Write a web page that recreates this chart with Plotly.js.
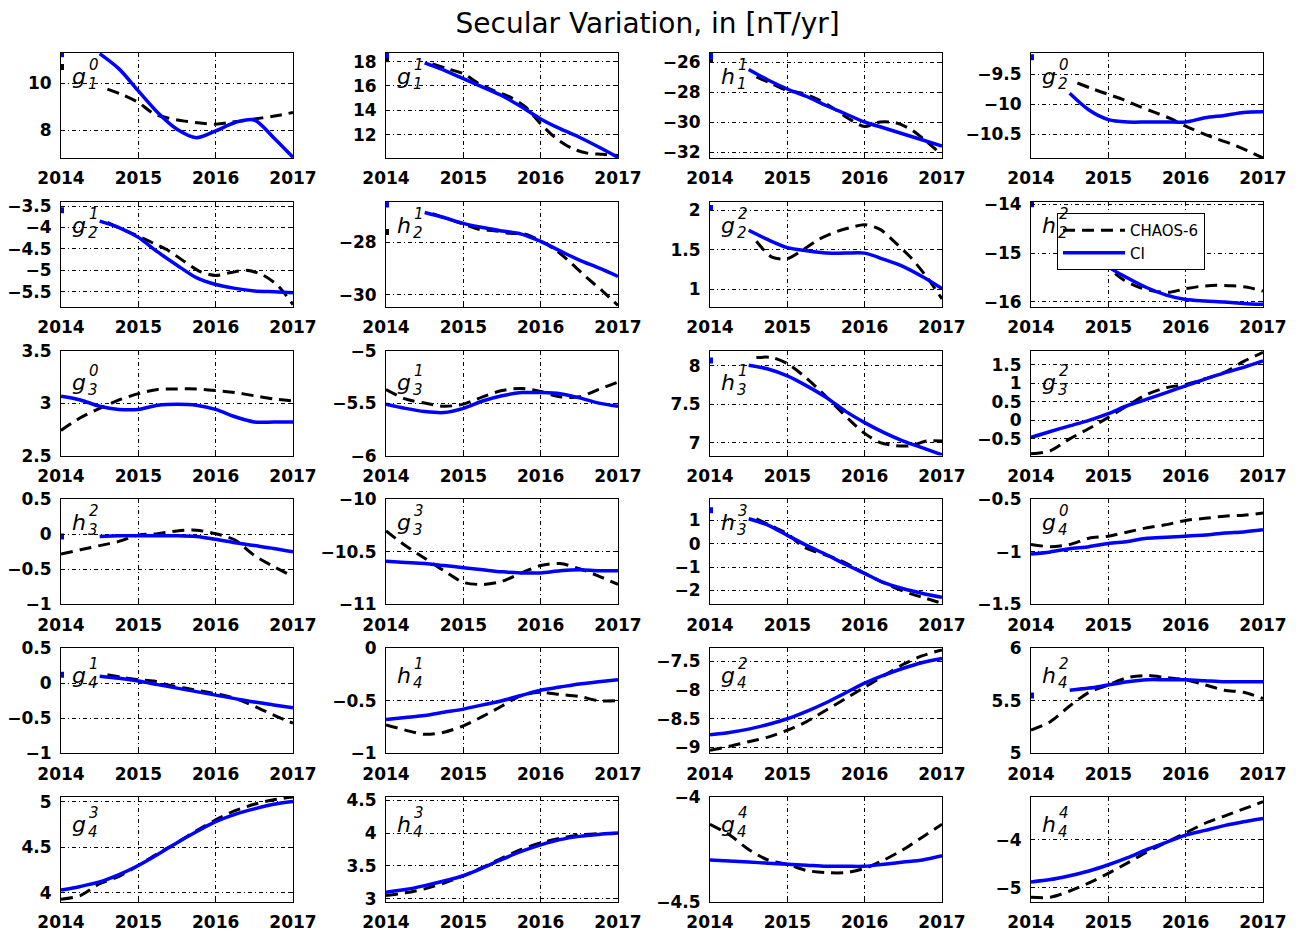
<!DOCTYPE html>
<html><head><meta charset="utf-8">
<script src="https://cdn.plot.ly/plotly-3.0.1.min.js"></script>
<style>html,body{margin:0;padding:0;background:#fff}</style>
</head><body><div id="chart" style="width:1303px;height:935px"></div>
<script>
// time grids (decimal years)
const T_Q  = [2014, 2014.25, 2014.5, 2014.75, 2015, 2015.25, 2015.5, 2015.75, 2016, 2016.25, 2016.5, 2016.75, 2017];
const T_QL = [2014.5, 2014.75, 2015, 2015.25, 2015.5, 2015.75, 2016, 2016.25, 2016.5, 2016.75, 2017];
const T_F  = [2014.6, 2014.8, 2015, 2015.2, 2015.4, 2015.6, 2015.8, 2016, 2016.2, 2016.4, 2016.6, 2016.8, 2017];
const xTicks = [2014, 2015, 2016, 2017];

// coefficient labels
const coefLetter = ['g','g','h','g', 'g','h','g','h', 'g','g','h','g', 'h','g','h','g', 'g','h','g','h', 'g','h','g','h'];
const coefN      = [1,1,1,2, 2,2,2,2, 3,3,3,3, 3,3,3,4, 4,4,4,4, 4,4,4,4];
const coefM      = [0,1,1,0, 1,1,2,2, 0,1,1,2, 2,3,3,0, 1,1,2,2, 3,3,4,4];

// CI series
const ci_g10 = [11.27, 10.62, 9.68, 8.75, 8.03, 7.67, 7.96, 8.32, 8.43, 7.67, 6.83];
const ci_g11 = [17.9, 17.3, 16.6, 15.9, 15.2, 14.3, 13.3, 12.5, 11.8, 11.0, 10.15];
const ci_h11 = [-26.5, -27.2, -27.8, -28.3, -28.9, -29.45, -30.0, -30.4, -30.8, -31.2, -31.6];
const ci_g20 = [-9.82, -10.1, -10.26, -10.3, -10.3, -10.3, -10.3, -10.23, -10.19, -10.14, -10.13];
const ci_g21 = [-3.85, -4.0, -4.23, -4.57, -4.88, -5.17, -5.33, -5.42, -5.48, -5.5, -5.52];
const ci_h21 = [-26.86, -27.05, -27.27, -27.43, -27.56, -27.68, -27.96, -28.32, -28.67, -28.97, -29.29];
const ci_g22 = [1.75, 1.63, 1.53, 1.49, 1.46, 1.46, 1.46, 1.38, 1.29, 1.16, 1.01];
const ci_h22 = [-14.4, -14.85, -15.28, -15.51, -15.71, -15.86, -15.95, -15.98, -16.0, -16.03, -16.05];
const ci_g30 = [3.065, 3.03, 2.97, 2.94, 2.94, 2.98, 2.99, 2.98, 2.94, 2.87, 2.82, 2.82, 2.82];
const ci_g31 = [-5.51, -5.55, -5.58, -5.59, -5.55, -5.48, -5.43, -5.40, -5.40, -5.41, -5.45, -5.50, -5.53];
const ci_h31 = [8.01, 7.96, 7.87, 7.74, 7.59, 7.41, 7.26, 7.13, 7.02, 6.93, 6.84];
const ci_g32 = [-0.46, -0.3, -0.15, 0.0, 0.18, 0.4, 0.57, 0.75, 0.93, 1.11, 1.28, 1.43, 1.6];
const ci_h32 = [-0.03, -0.02, -0.02, -0.02, -0.02, -0.03, -0.07, -0.12, -0.16, -0.2, -0.25];
const ci_g33 = [-10.59, -10.6, -10.61, -10.63, -10.65, -10.67, -10.69, -10.7, -10.7, -10.68, -10.67, -10.68, -10.68];
const ci_h33 = [1.07, 0.8, 0.36, -0.07, -0.46, -0.88, -1.27, -1.67, -1.93, -2.13, -2.3];
const ci_g40 = [-1.02, -1.0, -0.97, -0.95, -0.92, -0.9, -0.87, -0.86, -0.85, -0.84, -0.82, -0.81, -0.79];
const ci_g41 = [0.1, 0.07, 0.03, -0.02, -0.07, -0.12, -0.17, -0.22, -0.27, -0.31, -0.35];
const ci_h41 = [-0.68, -0.66, -0.64, -0.61, -0.58, -0.54, -0.5, -0.45, -0.4, -0.37, -0.34, -0.32, -0.3];
const ci_g42 = [-8.78, -8.74, -8.68, -8.6, -8.5, -8.37, -8.22, -8.05, -7.88, -7.74, -7.62, -7.52, -7.45];
const ci_h42 = [5.6, 5.62, 5.65, 5.68, 5.7, 5.7, 5.7, 5.69, 5.68, 5.68, 5.68];
const ci_g43 = [4.03, 4.07, 4.12, 4.2, 4.3, 4.42, 4.55, 4.67, 4.78, 4.86, 4.92, 4.97, 5.0];
const ci_h43 = [3.1, 3.14, 3.2, 3.27, 3.35, 3.47, 3.6, 3.72, 3.82, 3.9, 3.95, 3.98, 4.0];
const ci_g44 = [-4.3, -4.305, -4.31, -4.315, -4.32, -4.325, -4.33, -4.33, -4.33, -4.32, -4.31, -4.3, -4.28];
const ci_h44 = [-4.88, -4.83, -4.75, -4.65, -4.52, -4.37, -4.2, -4.05, -3.9, -3.8, -3.7, -3.62, -3.55];

// CHAOS-6 series
const ch_g10 = [9.75, 9.5, 9.18, 8.7, 8.5, 8.38, 8.3, 8.25, 8.33, 8.42, 8.52, 8.62, 8.75];
const ch_g11 = [17.8, 17.4, 17.0, 16.2, 15.6, 15.1, 14.3, 12.9, 11.7, 10.9, 10.5, 10.4, 10.3];
const ch_h11 = [-27.0, -27.45, -27.9, -28.1, -28.5, -29.1, -29.8, -30.3, -30.0, -30.05, -30.5, -31.3, -32.2];
const ch_g20 = [-9.65, -9.75, -9.84, -9.93, -10.04, -10.14, -10.24, -10.37, -10.48, -10.58, -10.67, -10.78, -10.9];
const ch_g21 = [-3.88, -4.05, -4.2, -4.37, -4.55, -4.8, -5.03, -5.12, -5.05, -5.0, -5.1, -5.35, -5.8];
const ch_h21 = [-26.9, -27.1, -27.3, -27.5, -27.55, -27.65, -27.68, -27.94, -28.3, -28.8, -29.35, -29.85, -30.4];
const ch_g22 = [1.61, 1.41, 1.39, 1.5, 1.63, 1.72, 1.78, 1.82, 1.76, 1.59, 1.4, 1.16, 0.88];
const ch_h22 = [-14.55, -14.95, -15.3, -15.55, -15.7, -15.78, -15.8, -15.73, -15.68, -15.66, -15.67, -15.7, -15.78];
const ch_g30 = [2.74, 2.86, 2.95, 3.03, 3.09, 3.13, 3.135, 3.135, 3.12, 3.1, 3.07, 3.04, 3.02];
const ch_g31 = [-5.37, -5.46, -5.5, -5.53, -5.51, -5.44, -5.38, -5.36, -5.39, -5.44, -5.44, -5.37, -5.3];
const ch_h31 = [8.11, 8.11, 8.03, 7.88, 7.7, 7.5, 7.3, 7.12, 7.0, 6.96, 6.96, 7.02, 7.02];
const ch_g32 = [-0.9, -0.82, -0.5, -0.22, 0.08, 0.4, 0.7, 0.88, 0.97, 1.12, 1.29, 1.59, 1.83];
const ch_h32 = [-0.28, -0.22, -0.16, -0.1, -0.01, 0.01, 0.05, 0.06, 0.01, -0.08, -0.3, -0.46, -0.6];
const ch_g33 = [-10.3, -10.44, -10.56, -10.68, -10.79, -10.81, -10.78, -10.7, -10.63, -10.61, -10.66, -10.73, -10.81];
const ch_h33 = [1.07, 0.75, 0.43, -0.12, -0.38, -0.6, -0.9, -1.27, -1.6, -1.9, -2.15, -2.35, -2.55];
const ch_g40 = [-0.93, -0.95, -0.93, -0.87, -0.85, -0.81, -0.77, -0.74, -0.7, -0.68, -0.66, -0.65, -0.63];
const ch_g41 = [0.12, 0.08, 0.05, 0.03, -0.03, -0.07, -0.11, -0.15, -0.2, -0.28, -0.38, -0.48, -0.57];
const ch_h41 = [-0.73, -0.78, -0.82, -0.8, -0.74, -0.65, -0.55, -0.45, -0.42, -0.44, -0.46, -0.5, -0.5];
const ch_g42 = [-9.05, -8.98, -8.9, -8.82, -8.7, -8.55, -8.35, -8.15, -7.95, -7.75, -7.55, -7.4, -7.3];
const ch_h42 = [5.22, 5.3, 5.45, 5.58, 5.65, 5.72, 5.74, 5.72, 5.7, 5.65, 5.6, 5.58, 5.52];
const ch_g43 = [3.93, 3.97, 4.1, 4.18, 4.3, 4.43, 4.55, 4.68, 4.8, 4.9, 4.97, 5.02, 5.05];
const ch_h43 = [3.05, 3.09, 3.15, 3.24, 3.35, 3.48, 3.62, 3.75, 3.85, 3.92, 3.97, 3.99, 4.0];
const ch_g44 = [-4.13, -4.18, -4.25, -4.3, -4.32, -4.35, -4.36, -4.36, -4.34, -4.3, -4.25, -4.19, -4.13];
const ch_h44 = [-5.2, -5.2, -5.07, -4.9, -4.7, -4.48, -4.25, -4.05, -3.85, -3.65, -3.5, -3.35, -3.2];

// isolated values at epoch 2014.0
const ciAt2014 = [11.25, 18.5, -25.6, -9.22, -3.6, -26.55, 2.03, -14.0, null, null, 8.07, null, -0.03, null, 1.43, null, 0.12, null, null, 5.55, null, null, null, null];
const chAt2014 = [10.7, 18.2, -25.8, null, null, -27.6, null, null, null, null, null, null, null, null, null, null, null, null, null, null, null, null, null, null];

const ciSeries = [ci_g10, ci_g11, ci_h11, ci_g20, ci_g21, ci_h21, ci_g22, ci_h22, ci_g30, ci_g31, ci_h31, ci_g32, ci_h32, ci_g33, ci_h33, ci_g40, ci_g41, ci_h41, ci_g42, ci_h42, ci_g43, ci_h43, ci_g44, ci_h44];
const chSeries = [ch_g10, ch_g11, ch_h11, ch_g20, ch_g21, ch_h21, ch_g22, ch_h22, ch_g30, ch_g31, ch_h31, ch_g32, ch_h32, ch_g33, ch_h33, ch_g40, ch_g41, ch_h41, ch_g42, ch_h42, ch_g43, ch_h43, ch_g44, ch_h44];
const ciTimes = [T_QL, T_QL, T_QL, T_QL, T_QL, T_QL, T_QL, T_QL, T_Q, T_Q, T_QL, T_Q, T_QL, T_Q, T_QL, T_Q, T_QL, T_Q, T_Q, T_QL, T_Q, T_Q, T_Q, T_Q];
const chTimes = [T_F, T_F, T_F, T_F, T_F, T_F, T_F, T_F, T_Q, T_Q, T_F, T_Q, T_Q, T_Q, T_F, T_Q, T_F, T_Q, T_Q, T_Q, T_Q, T_Q, T_Q, T_Q];

const yRanges = [[6.8, 11.3], [10.1, 18.7], [-32.4, -25.4], [-10.9, -9.15],
  [-5.85, -3.4], [-30.45, -26.45], [0.78, 2.11], [-16.1, -13.95],
  [2.5, 3.5], [-6, -5], [6.83, 8.2], [-0.95, 1.88],
  [-1, 0.5], [-11, -10], [-2.6, 1.9], [-1.5, -0.5],
  [-1, 0.5], [-1, 0], [-9.1, -7.27], [5, 6],
  [3.9, 5.05], [2.95, 4.55], [-4.5, -4], [-5.3, -3.1]];
const yTicks = [[8, 10], [12, 14, 16, 18], [-32, -30, -28, -26], [-10.5, -10, -9.5],
  [-5.5, -5, -4.5, -4, -3.5], [-30, -28], [1, 1.5, 2], [-16, -15, -14],
  [2.5, 3, 3.5], [-6, -5.5, -5], [7, 7.5, 8], [-0.5, 0, 0.5, 1, 1.5],
  [-1, -0.5, 0, 0.5], [-11, -10.5, -10], [-2, -1, 0, 1], [-1.5, -1, -0.5],
  [-1, -0.5, 0, 0.5], [-1, -0.5, 0], [-9, -8.5, -8, -7.5], [5, 5.5, 6],
  [4, 4.5, 5], [3, 3.5, 4, 4.5], [-4.5, -4], [-5, -4]];

// ---- layout geometry ----
const W = 1303, H = 935;
const colLeft = [61, 386, 710, 1031], colW = 232;
const rowTop0 = 53, rowStep = 148.8, rowH = 105;
const labelDy = [0, 0, 8, 0, 4, 4];
const FONT = 'DejaVu Sans';

const traces = [];
const layout = {
  width: W, height: H, margin: {l: 0, r: 0, t: 0, b: 0},
  paper_bgcolor: '#fff', plot_bgcolor: '#fff',
  font: {family: FONT, color: '#000'},
  title: {text: 'Secular Variation, in [nT/yr]', font: {family: FONT, size: 28, color: '#000'},
          x: 0.497, xanchor: 'center', y: 1 - 23 / H, yanchor: 'middle'},
  showlegend: true,
  legend: {x: 1057 / W, y: 1 - 213 / H, xanchor: 'left', yanchor: 'top', bgcolor: '#fff',
           bordercolor: '#000', borderwidth: 1, font: {family: FONT, size: 15, color: '#000'},
           itemwidth: 62, tracegroupgap: 0, entrywidth: 155, entrywidthmode: 'pixels'},
  annotations: []
};

const axisCommon = {
  showline: true, linecolor: '#000', linewidth: 1, mirror: 'ticks',
  ticks: 'inside', ticklen: 4, tickcolor: '#000',
  showgrid: true, gridcolor: '#000', gridwidth: 1, griddash: '4px,3px,1px,3px',
  zeroline: false, fixedrange: true,
  tickfont: {family: FONT, size: 17, color: '#000', weight: 'bold'}
};

for (let i = 0; i < 24; i++) {
  const r = Math.floor(i / 4), c = i % 4;
  const suf = i === 0 ? '' : String(i + 1);
  const top = rowTop0 + rowStep * r;
  layout['xaxis' + suf] = Object.assign({}, axisCommon, {
    domain: [colLeft[c] / W, (colLeft[c] + colW) / W], anchor: 'y' + suf,
    range: [2014, 2017], tickvals: xTicks, tickmode: 'array', ticklabelstandoff: 5
  });
  layout['yaxis' + suf] = Object.assign({}, axisCommon, {
    domain: [1 - (top + rowH) / H, 1 - top / H], anchor: 'x' + suf,
    range: yRanges[i], tickvals: yTicks[i], tickmode: 'array', ticklabelstandoff: 5
  });

  traces.push({x: chTimes[i], y: chSeries[i], xaxis: 'x' + suf, yaxis: 'y' + suf,
    type: 'scatter', mode: 'lines', name: 'CHAOS-6', legendgroup: 'chaos', showlegend: i === 0,
    line: {color: '#000', width: 3, dash: '12px,7px', shape: 'spline', smoothing: 0.8}});
  traces.push({x: ciTimes[i], y: ciSeries[i], xaxis: 'x' + suf, yaxis: 'y' + suf,
    type: 'scatter', mode: 'lines', name: 'CI', legendgroup: 'ci', showlegend: i === 0,
    line: {color: '#0000ff', width: 3.5, shape: 'spline', smoothing: 0.8}});
  if (chAt2014[i] !== null) {
    traces.push({x: [xTicks[0]], y: [chAt2014[i]], xaxis: 'x' + suf, yaxis: 'y' + suf,
      type: 'scatter', mode: 'markers', showlegend: false,
      marker: {symbol: 'square', size: 6, color: '#000'}});
  }
  if (ciAt2014[i] !== null) {
    traces.push({x: [xTicks[0]], y: [ciAt2014[i]], xaxis: 'x' + suf, yaxis: 'y' + suf,
      type: 'scatter', mode: 'markers', showlegend: false,
      marker: {symbol: 'square', size: 6, color: '#0000ff'}});
  }

  const xr = 'x' + suf + ' domain', yr = 'y' + suf + ' domain';
  const dy = labelDy[r];
  layout.annotations.push({xref: xr, yref: yr, x: 0, y: 1, xanchor: 'left', yanchor: 'top',
    xshift: 9, yshift: -9 - dy, showarrow: false, text: '<i>' + coefLetter[i] + '</i>',
    font: {family: FONT, size: 22, color: '#000'}});
  layout.annotations.push({xref: xr, yref: yr, x: 0, y: 1, xanchor: 'left', yanchor: 'top',
    xshift: 26, yshift: -1 - dy, showarrow: false, text: '<i>' + coefM[i] + '</i>',
    font: {family: FONT, size: 15, color: '#000'}});
  layout.annotations.push({xref: xr, yref: yr, x: 0, y: 1, xanchor: 'left', yanchor: 'top',
    xshift: 25, yshift: -20 - dy, showarrow: false, text: '<i>' + coefN[i] + '</i>',
    font: {family: FONT, size: 15, color: '#000'}});
}

Plotly.newPlot('chart', traces, layout, {staticPlot: true, displayModeBar: false});
</script>
</body></html>
